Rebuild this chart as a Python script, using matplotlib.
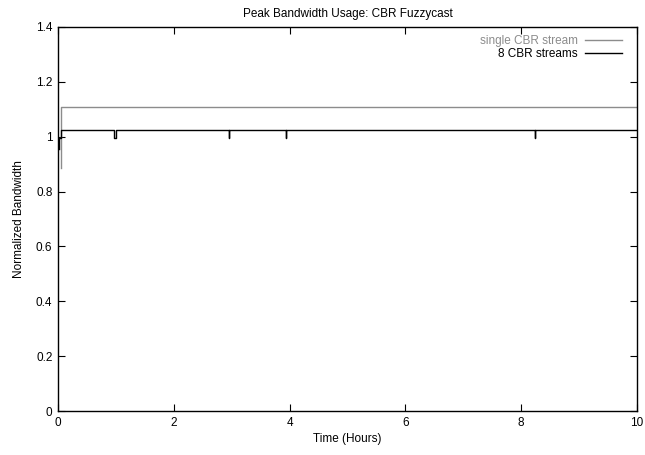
import numpy as np
import matplotlib as mpl
import matplotlib.pyplot as plt

mpl.rcParams['font.family'] = ['Liberation Sans', 'DejaVu Sans']
mpl.rcParams['xtick.direction'] = 'in'
mpl.rcParams['ytick.direction'] = 'in'
mpl.rcParams['xtick.top'] = True
mpl.rcParams['ytick.right'] = True

# single CBR stream: ramps up at start then flat
single_t = [0.05, 0.05, 10.0]
single_bw = [0.885, 1.107, 1.107]

# 8 CBR streams: flat with short dips
multi_t = [0.02, 0.02, 0.05, 0.05,
           0.975, 0.975, 0.995, 0.995,
           2.95, 2.95, 2.95,
           3.94, 3.94, 3.94,
           8.24, 8.24, 8.24,
           10.0]
multi_bw = [0.955, 0.995, 0.995, 1.0245,
            1.0245, 0.995, 0.995, 1.0245,
            1.0245, 0.995, 1.0245,
            1.0245, 0.995, 1.0245,
            1.0245, 0.995, 1.0245,
            1.0245]

fig = plt.figure(figsize=(6.45, 4.55), dpi=100)
ax = fig.add_axes([0.0899, 0.0967, 0.8977, 0.844])

ax.plot(single_t, single_bw, color='#8c8c8c', lw=1.0, label='single CBR stream')
ax.plot(multi_t, multi_bw, color='black', lw=1.0, label='8 CBR streams')

ax.set_xlim(0, 10)
ax.set_ylim(0, 1.4)
ax.set_xticks(np.arange(0, 11, 2))
ax.set_yticks(np.arange(0, 1.41, 0.2))
ax.set_yticklabels(['0', '0.2', '0.4', '0.6', '0.8', '1', '1.2', '1.4'])
ax.tick_params(labelsize=8.5, length=5, width=0.8, pad=4)
for s in ax.spines.values():
    s.set_linewidth(1.0)

ax.set_xlabel('Time (Hours)', fontsize=8.5, labelpad=3)
ax.set_ylabel('Normalized Bandwidth', fontsize=8.5, labelpad=8)
ax.set_title('Peak Bandwidth Usage: CBR Fuzzycast', fontsize=8.5, pad=7)

leg = ax.legend(loc='upper right', bbox_to_anchor=(0.988, 1.0), frameon=False,
                markerfirst=False, fontsize=8.5, handlelength=3.1, handletextpad=0.6,
                borderaxespad=0.3, labelspacing=0.1)
for txt, ln in zip(leg.get_texts(), leg.get_lines()):
    txt.set_color(ln.get_color())
    txt.set_ha('right')

plt.savefig('out.png')
